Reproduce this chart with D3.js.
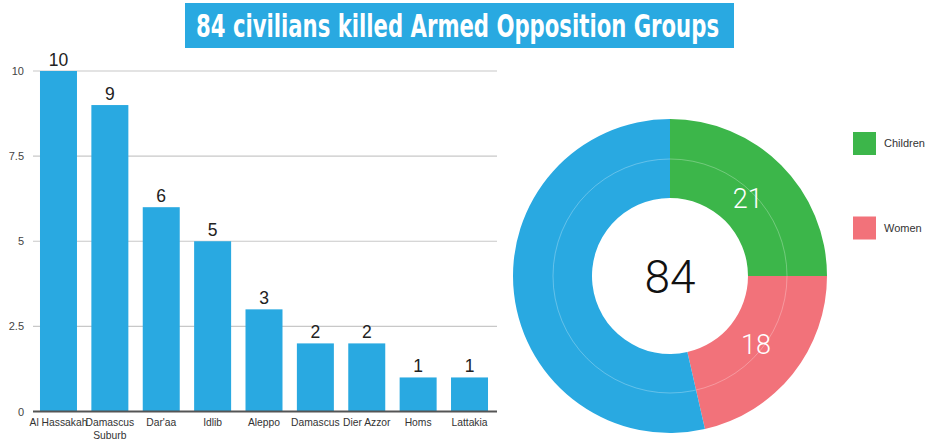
<!DOCTYPE html>
<html><head><meta charset="utf-8">
<script src="https://cdn.jsdelivr.net/npm/d3@7"></script>
<style>
html,body{margin:0;padding:0;background:#fff;}
svg{display:block;}
svg text{font-family:"Liberation Sans",Arial,Helvetica,sans-serif;}
</style></head>
<body><svg id="c" width="930" height="442"></svg>
<script>
const title = "84 civilians killed Armed Opposition Groups";
const categories = ["Al Hassakah","Damascus Suburb","Dar'aa","Idlib","Aleppo","Damascus","Dier Azzor","Homs","Lattakia"];
const values = [10,9,6,5,3,2,2,1,1];
const yTicks = [0,2.5,5,7.5,10];
const donutLabels = ["Children","Women","Men"];
const donutValues = [21,18,45];
const donutColors = ["#3cb64a","#f2727a","#29a9e1"];
const total = 84;
const legendLabels = ["Children","Women"];

const svg = d3.select("#c");
const blue = "#29a9e1";
const sans = "'Liberation Sans',Arial,Helvetica,sans-serif";

// Title
svg.append("rect").attr("x",185).attr("y",3).attr("width",549).attr("height",45).attr("fill",blue);
svg.append("text").attr("x",196).attr("y",37)
  .attr("textLength",523).attr("lengthAdjust","spacingAndGlyphs")
  .attr("fill","#fff").attr("font-weight","bold")
  .style("font-family","'Liberation Sans Narrow','DejaVu Sans Condensed','Liberation Sans',Arial,sans-serif")
  .style("font-size","32px").text(title);

// Bar chart
const x = d3.scaleBand().domain(categories).range([33,495]).paddingInner(0.28).paddingOuter(0.136);
const y = d3.scaleLinear().domain([0,10]).range([411.5,71]);

const grid = svg.append("g");
grid.selectAll("line").data(yTicks.filter(d=>d>0)).join("line")
  .attr("x1",33).attr("x2",497).attr("y1",d=>y(d)).attr("y2",d=>y(d))
  .attr("stroke","#c8c8c8").attr("stroke-width",1.2);

const yAxis = d3.axisLeft(y).tickValues(yTicks).tickSize(0).tickPadding(0).tickFormat(d=>String(d));
const ya = svg.append("g").attr("transform","translate(24,0)").call(yAxis);
ya.select(".domain").remove();
ya.selectAll("text").attr("fill","#444").style("font-size","11px").style("font-family",sans);

svg.append("g").selectAll("rect").data(values).join("rect")
  .attr("x",(d,i)=>x(categories[i])).attr("width",x.bandwidth())
  .attr("y",d=>y(d)).attr("height",d=>y(0)-y(d)).attr("fill",blue);

svg.append("line").attr("x1",33).attr("x2",497).attr("y1",y(0)).attr("y2",y(0))
  .attr("stroke","#555").attr("stroke-width",2);

svg.append("g").selectAll("text").data(values).join("text")
  .attr("x",(d,i)=>x(categories[i])+x.bandwidth()/2).attr("y",d=>y(d)-5.5)
  .attr("text-anchor","middle").attr("fill","#222").style("font-size","17.5px").style("font-family",sans)
  .text(d=>d);

const xl = svg.append("g").selectAll("text").data(categories).join("text")
  .attr("x",d=>x(d)+x.bandwidth()/2).attr("y",426)
  .attr("text-anchor","middle").attr("fill","#333").style("font-size","10.3px").style("font-family",sans);
xl.each(function(d){
  const parts = d==="Damascus Suburb" ? ["Damascus","Suburb"] : [d];
  const t = d3.select(this);
  parts.forEach((p,i)=>t.append("tspan").attr("x",x(d)+x.bandwidth()/2).attr("dy",i?13:0).text(p));
});

// Donut
const cx=670, cy=276, R=157, r=78;
const pie = d3.pie().sort(null).value(d=>d);
const arcs = pie(donutValues);
const arc = d3.arc().innerRadius(r).outerRadius(R);
const dg = svg.append("g").attr("transform",`translate(${cx},${cy})`);
dg.selectAll("path").data(arcs).join("path").attr("d",arc).attr("fill",(d,i)=>donutColors[i]);
dg.append("circle").attr("r",117).attr("fill","none").attr("stroke","#fff").attr("stroke-opacity",0.35).attr("stroke-width",0.8);
const lab = d3.arc().innerRadius(110).outerRadius(110);
dg.selectAll("text.v").data(arcs.slice(0,2)).join("text").attr("class","v")
  .attr("transform",d=>`translate(${lab.centroid(d)})`).attr("dy","0.36em")
  .attr("text-anchor","middle").attr("fill","#fff").style("font-size","27px").style("font-weight","300")
  .style("font-family","Roboto,'Liberation Sans',sans-serif")
  .text(d=>d.data);
dg.append("text").attr("text-anchor","middle").attr("dy","0.36em").attr("fill","#111")
  .style("font-size","46px").style("font-weight","300").style("font-family","Roboto,'Liberation Sans',sans-serif")
  .text(total);

// Legend
const lg = svg.append("g").selectAll("g").data(legendLabels).join("g")
  .attr("transform",(d,i)=>`translate(853,${132+i*84.5})`);
lg.append("rect").attr("width",23).attr("height",23).attr("fill",(d,i)=>donutColors[i]);
lg.append("text").attr("x",31).attr("y",11.5).attr("dy","0.35em").attr("fill","#333").style("font-size","11px").style("font-family",sans).text(d=>d);
</script></body></html>
